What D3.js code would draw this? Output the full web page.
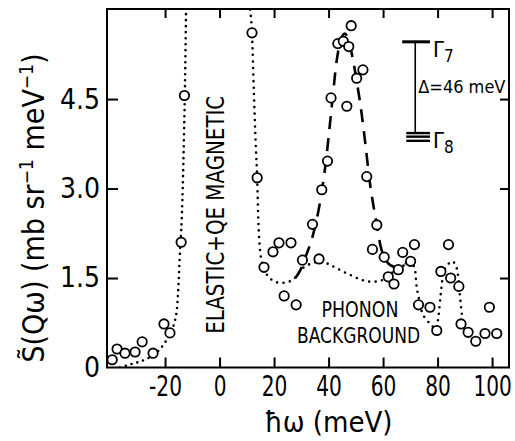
<!DOCTYPE html>
<html><head><meta charset="utf-8">
<script src="https://cdn.jsdelivr.net/npm/d3@7/dist/d3.min.js"></script>
<style>body{margin:0;background:#fff}svg{display:block}</style>
</head><body><svg id="c" width="515" height="441"></svg>
<script>
// ---- data ----
const xTicks = [-20, 0, 20, 40, 60, 80, 100];
const xTickLabels = ["-20", "0", "20", "40", "60", "80", "100"];
const yTicks = [0, 1.5, 3.0, 4.5];
const yTickLabels = ["0", "1.5", "3.0", "4.5"];

const pointE = [-39.4,-37.6,-34.7,-31.0,-28.4,-24.4,-20.4,-18.2,-14.1,-12.9,
  11.9,13.8,16.3,19.6,21.8,23.7,26.2,28.1,30.4,34.1,36.5,37.5,39.6,40.9,43.4,45.4,46.7,47.4,48.3,50.3,52.6,54.0,
  56.1,57.7,60.4,61.9,64.0,65.6,67.2,70.1,71.5,73.0,77.2,79.7,81.2,84.0,84.8,87.8,88.6,91.2,94.0,97.4,99.0,101.7];
const pointS = [0.13,0.31,0.24,0.26,0.43,0.24,0.73,0.58,2.1,4.56,
  5.61,3.18,1.68,1.94,2.09,1.2,2.09,1.05,1.80,2.40,1.82,2.98,3.46,4.52,5.43,5.47,4.38,5.38,5.73,4.85,4.99,3.20,
  1.98,2.39,1.85,1.52,1.40,1.64,1.93,1.78,2.06,1.05,1.01,0.62,1.61,2.06,1.50,1.36,0.73,0.59,0.44,0.57,1.01,0.57];

const elasticE = [-36.5,-33,-29.2,-26,-24.3,-22,-20.6,-19.3,-18.2,-17.2,-16.3,-15.6,-15.1,-14.5,-13.9,-13.4,-13.0,-12.7,-12.5,-12.3];
const elasticS = [0.0,0.05,0.1,0.16,0.21,0.3,0.38,0.47,0.55,0.66,0.8,1.0,1.36,1.97,2.47,3.2,4.0,4.7,5.3,6.0];

const bgE = [11.2,11.9,12.6,13.3,13.8,14.2,14.9,16.0,18.0,20.0,22.0,24.0,26.0,28.0,29.5,32.5,35.5,37.5,40.5,44.0,48.0,51.5,55.0,58.3,60.7,63.0,65.5,68.0,70.3,71.7,72.3,73.0,74.2,76.0,77.9,79.5,80.3,81.2,82.1,83.7,85.2,86.2,87.4,88.0,88.6,89.2,90.5];
const bgS = [6.0,5.6,4.6,3.7,3.18,2.5,1.95,1.7,1.52,1.45,1.42,1.42,1.45,1.52,1.62,1.72,1.77,1.78,1.72,1.64,1.55,1.48,1.44,1.44,1.5,1.58,1.65,1.72,1.76,1.64,1.36,1.19,0.94,0.8,0.7,0.65,0.85,1.25,1.58,1.72,1.78,1.75,1.58,1.30,1.02,0.8,0.62];

const peakE = [27.8,29.5,31.5,33.5,35.5,37.5,39.0,41.0,43.0,44.5,46.0,47.5,49.0,50.5,52.0,53.5,55.0,56.5,57.7,59.0,60.5,62.5,65.0,67.5,70.0];
const peakS = [1.5,1.62,1.85,2.1,2.45,2.95,3.45,4.3,5.15,5.5,5.6,5.45,5.15,4.75,4.3,3.75,3.15,2.7,2.4,2.05,1.85,1.72,1.68,1.72,1.8];

// level scheme (in data units)
const levelG7 = {e0: 67.0, e1: 77.2, s: 5.46};
const levelG8 = {e0: 68.5, e1: 77.2, s: [3.93, 3.87, 3.80]};
const levelStem = {e: 71.8};

// ---- layout ----
const svg = d3.select("#c");
const L = 107, R = 509, T = 9, B = 367.5;
const x = d3.scaleLinear().domain([-41.3, 106.2]).range([L, R]);
const y = d3.scaleLinear().domain([0, 6.01]).range([B, T]);
const FONT = "'DejaVu Sans Condensed','DejaVu Sans',sans-serif";

// frame
svg.append("rect").attr("x", L).attr("y", T).attr("width", R - L).attr("height", B - T)
  .attr("fill", "none").attr("stroke", "#000").attr("stroke-width", 2);

function styleAxis(g){
  g.select(".domain").remove();
  g.selectAll(".tick line").attr("stroke", "#000").attr("stroke-width", 2);
  g.selectAll(".tick text").attr("fill", "#000").style("font-family", FONT).style("font-size", "28px");
}
const gx = svg.append("g").attr("transform", `translate(0,${B})`)
  .call(d3.axisBottom(x).tickValues(xTicks).tickSizeInner(-10).tickSizeOuter(0).tickPadding(9)
    .tickFormat((d, i) => xTickLabels[i])).call(styleAxis);
gx.selectAll(".tick text").attr("transform", "scale(0.8,1)");
svg.append("g").attr("transform", `translate(0,${T})`)
  .call(d3.axisTop(x).tickValues(xTicks).tickSizeInner(-9).tickSizeOuter(0).tickFormat("")).call(styleAxis);
const gy = svg.append("g").attr("transform", `translate(${L},0)`)
  .call(d3.axisLeft(y).tickValues(yTicks).tickSizeInner(-11).tickSizeOuter(0).tickPadding(7)
    .tickFormat((d, i) => yTickLabels[i])).call(styleAxis);
gy.selectAll(".tick").filter(d => d === 0).select("line").remove();
svg.append("g").attr("transform", `translate(${R},0)`)
  .call(d3.axisRight(y).tickValues(yTicks.slice(1)).tickSizeInner(-9).tickSizeOuter(0).tickFormat("")).call(styleAxis);

// clip
svg.append("clipPath").attr("id", "clip").append("rect")
  .attr("x", L).attr("y", T).attr("width", R - L).attr("height", B - T);
const plot = svg.append("g").attr("clip-path", "url(#clip)");

const line = d3.line().x(d => x(d[0])).y(d => y(d[1])).curve(d3.curveMonotoneX);
const zip = (a, b) => a.map((v, i) => [v, b[i]]);

plot.append("path").datum(zip(elasticE, elasticS)).attr("d", line)
  .attr("fill", "none").attr("stroke", "#000").attr("stroke-width", 2.6)
  .attr("stroke-linecap", "round").attr("stroke-dasharray", "0,6");
plot.append("path").datum(zip(bgE, bgS)).attr("d", line)
  .attr("fill", "none").attr("stroke", "#000").attr("stroke-width", 2.6)
  .attr("stroke-linecap", "round").attr("stroke-dasharray", "0,6.5");
plot.append("path").datum(zip(peakE, peakS)).attr("d", line)
  .attr("fill", "none").attr("stroke", "#000").attr("stroke-width", 2.6)
  .attr("stroke-dasharray", "13,9");

plot.selectAll("circle.pt").data(zip(pointE, pointS)).join("circle")
  .attr("class", "pt").attr("cx", d => x(d[0])).attr("cy", d => y(d[1])).attr("r", 4.7)
  .attr("fill", "#fff").attr("stroke", "#000").attr("stroke-width", 1.8);

// level scheme
svg.append("line").attr("x1", x(levelG7.e0)).attr("x2", x(levelG7.e1))
  .attr("y1", y(levelG7.s)).attr("y2", y(levelG7.s)).attr("stroke", "#000").attr("stroke-width", 3);
svg.append("line").attr("x1", x(levelStem.e)).attr("x2", x(levelStem.e))
  .attr("y1", y(levelG7.s)).attr("y2", y(levelG8.s[0])).attr("stroke", "#000").attr("stroke-width", 1.6);
levelG8.s.forEach(s => svg.append("line").attr("x1", x(levelG8.e0)).attr("x2", x(levelG8.e1))
  .attr("y1", y(s)).attr("y2", y(s)).attr("stroke", "#000").attr("stroke-width", 2.4));

function gamma(sub, e, s){
  const t = svg.append("text").attr("x", x(e)).attr("y", y(s)).style("font-family", FONT)
    .style("font-size", "22px").attr("fill", "#000");
  t.append("tspan").text("Γ");
  t.append("tspan").attr("dy", 5).style("font-size", "17px").text(sub);
}
gamma("7", 78.3, 5.2);
gamma("8", 78.3, 3.68);

function fitText(e, s, txt, size, len, anchor){
  return svg.append("text").attr("x", x(e)).attr("y", y(s)).attr("text-anchor", anchor || "start")
    .style("font-family", FONT).style("font-size", size + "px").attr("fill", "#000")
    .attr("textLength", len).attr("lengthAdjust", "spacingAndGlyphs").text(txt);
}
svg.append("text").attr("x", x(72.9)).attr("y", y(4.6)).style("font-family", FONT)
  .style("font-size", "18px").attr("fill", "#000").text("Δ=46 meV");

// annotations
svg.append("text").attr("transform", `translate(${x(1.8)},${y(2.56)}) rotate(-90)`)
  .attr("text-anchor", "middle").style("font-family", FONT).style("font-size", "24px").attr("fill", "#000")
  .attr("textLength", 238).attr("lengthAdjust", "spacingAndGlyphs")
  .text("ELASTIC+QE MAGNETIC");
fitText(51.5, 0.85, "PHONON", 22, 77, "middle");
fitText(51.0, 0.41, "BACKGROUND", 22, 123, "middle");

// axis titles
svg.append("text").attr("x", x(40)).attr("y", 432).attr("text-anchor", "middle")
  .style("font-family", FONT).style("font-size", "29px").attr("fill", "#000").text("ħω (meV)");
const yl = svg.append("text").attr("transform", "translate(44,208) rotate(-90)")
  .attr("text-anchor", "middle").style("font-family", FONT).style("font-size", "30px").attr("fill", "#000");
yl.append("tspan").text("S\u0303(Qω)  (mb sr");
yl.append("tspan").attr("dy", -11).style("font-size", "19px").text("−1");
yl.append("tspan").attr("dy", 11).text(" meV");
yl.append("tspan").attr("dy", -11).style("font-size", "19px").text("−1");
yl.append("tspan").attr("dy", 11).text(")");
</script></body></html>
